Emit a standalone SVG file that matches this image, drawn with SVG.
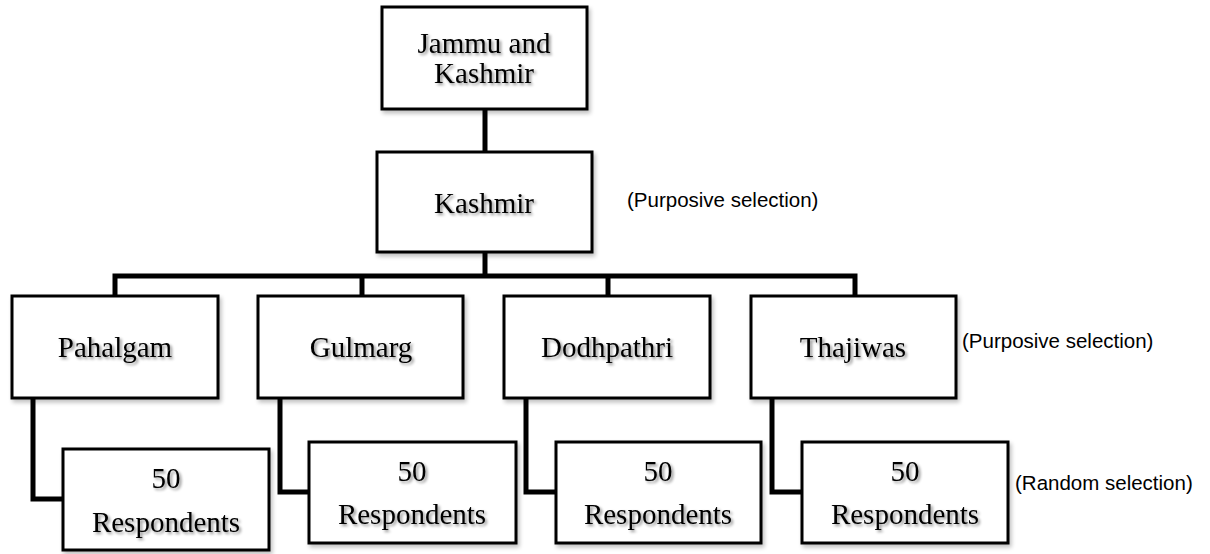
<svg xmlns="http://www.w3.org/2000/svg" width="1210" height="554" viewBox="0 0 1210 554">
<defs>
<filter id="ts" x="-20%" y="-30%" width="140%" height="160%">
<feGaussianBlur in="SourceAlpha" stdDeviation="1.5"/>
<feOffset dx="2" dy="2" result="b"/>
<feComponentTransfer><feFuncA type="linear" slope="0.45"/></feComponentTransfer>
<feMerge><feMergeNode/><feMergeNode in="SourceGraphic"/></feMerge>
</filter>
<filter id="bs" x="-5%" y="-5%" width="110%" height="115%">
<feGaussianBlur in="SourceAlpha" stdDeviation="2"/>
<feOffset dx="2" dy="3"/>
<feComponentTransfer><feFuncA type="linear" slope="0.25"/></feComponentTransfer>
<feMerge><feMergeNode/><feMergeNode in="SourceGraphic"/></feMerge>
</filter>
</defs>
<style>
.box{fill:#fff;stroke:#000;stroke-width:3;filter:url(#bs)}
.t{font-family:"Liberation Serif","Times New Roman",serif;font-size:29px;fill:#000;text-anchor:middle;filter:url(#ts)}
.a{font-family:"Liberation Sans",Arial,sans-serif;font-size:20.5px;fill:#000}
.c{fill:none;stroke:#000;stroke-width:5;stroke-linejoin:miter}
</style>
<g id="connectors">
<line class="c" x1="485" y1="109" x2="485" y2="152"/>
<line class="c" x1="485" y1="252" x2="485" y2="276"/>
<polyline class="c" points="115,296 115,276 855,276 855,296"/>
<line class="c" x1="362" y1="276" x2="362" y2="296"/>
<line class="c" x1="608" y1="276" x2="608" y2="296"/>
<polyline class="c" points="33,398 33,499 63,499"/>
<polyline class="c" points="280,398 280,492 309,492"/>
<polyline class="c" points="526,398 526,492 556,492"/>
<polyline class="c" points="772,398 772,492 802,492"/>
</g>
<g id="jk">
<rect class="box" x="382" y="7" width="205" height="102"/>
<text class="t" x="484" y="53">Jammu and</text>
<text class="t" x="484" y="83">Kashmir</text>
</g>
<g id="kashmir">
<rect class="box" x="377" y="152" width="215" height="100"/>
<text class="t" x="484" y="213">Kashmir</text>
</g>
<g id="pahalgam">
<rect class="box" x="12" y="296" width="206" height="102"/>
<text class="t" x="115" y="357">Pahalgam</text>
</g>
<g id="gulmarg">
<rect class="box" x="258" y="296" width="205" height="102"/>
<text class="t" x="361" y="357">Gulmarg</text>
</g>
<g id="dodhpathri">
<rect class="box" x="504" y="296" width="206" height="102"/>
<text class="t" x="607" y="357">Dodhpathri</text>
</g>
<g id="thajiwas">
<rect class="box" x="751" y="296" width="205" height="102"/>
<text class="t" x="853" y="357">Thajiwas</text>
</g>
<g id="resp1">
<rect class="box" x="63" y="449" width="206" height="101"/>
<text class="t" x="166" y="488">50</text>
<text class="t" x="166" y="532">Respondents</text>
</g>
<g id="resp2">
<rect class="box" x="309" y="442" width="207" height="101"/>
<text class="t" x="412" y="481">50</text>
<text class="t" x="412" y="524">Respondents</text>
</g>
<g id="resp3">
<rect class="box" x="556" y="442" width="205" height="101"/>
<text class="t" x="658" y="481">50</text>
<text class="t" x="658" y="524">Respondents</text>
</g>
<g id="resp4">
<rect class="box" x="802" y="442" width="206" height="101"/>
<text class="t" x="905" y="481">50</text>
<text class="t" x="905" y="524">Respondents</text>
</g>
<g id="annotations">
<text class="a" x="627" y="207">(Purposive selection)</text>
<text class="a" x="962" y="348">(Purposive selection)</text>
<text class="a" x="1015" y="490">(Random selection)</text>
</g>
</svg>
